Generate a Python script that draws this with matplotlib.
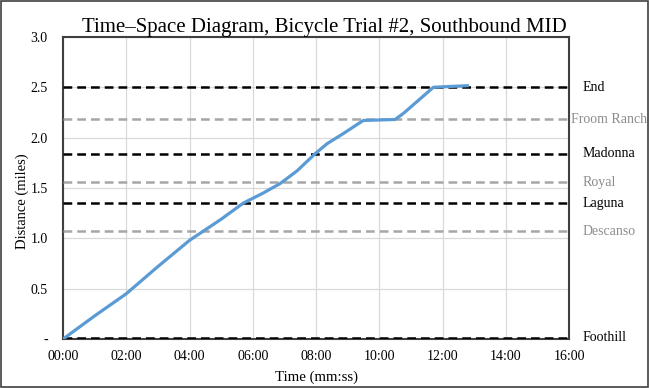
import matplotlib.pyplot as plt
from matplotlib.patches import Rectangle
from matplotlib.ticker import FuncFormatter

plt.rcParams['font.family'] = ['Liberation Serif', 'DejaVu Serif']

# trip trace: time in minutes, distance in miles
time_min = [0.0, 1.0, 2.0, 3.0, 4.0, 5.0, 5.7, 6.33, 6.87, 7.4, 7.97,
            8.35, 8.86, 9.49, 10.5, 10.76, 11.71, 12.78]
dist_mi = [0.0, 0.23, 0.45, 0.72, 0.98, 1.19, 1.35, 1.45, 1.545, 1.67, 1.84,
           1.94, 2.04, 2.17, 2.18, 2.24, 2.50, 2.515]

# intersections along the corridor
stops = ['End', 'Froom Ranch', 'Madonna', 'Royal', 'Laguna', 'Descanso', 'Foothill']
stop_dist = [2.50, 2.18, 1.84, 1.555, 1.35, 1.07, 0.015]
major = [True, False, True, False, True, False, True]

fig = plt.figure(figsize=(6.49, 3.88), dpi=100)
ax = fig.add_axes([0.097, 0.126, 0.780, 0.779])

fig.patches.append(Rectangle((0.002, 0.003), 0.996, 0.994, transform=fig.transFigure,
                             fill=False, edgecolor='#404040', linewidth=1.2))

for name, d, big in zip(stops, stop_dist, major):
    col = 'black' if big else '#a6a6a6'
    ax.axhline(d, color=col, linestyle=(0, (3.5, 2)), linewidth=1.8, zorder=3)
    xt = 16.06 if name == 'Froom Ranch' else 16.41
    ax.text(xt, d, name, color='black' if big else '#8c8c8c', fontsize=10,
            va='center', ha='left', clip_on=False)

ax.plot(time_min, dist_mi, color='#5b9bd5', linewidth=2.3, zorder=4)

ax.set_xlim(0, 16)
ax.set_ylim(0, 3.0)
ax.set_xticks(range(0, 17, 2))
ax.set_yticks([0, 0.5, 1.0, 1.5, 2.0, 2.5, 3.0])
ax.xaxis.set_major_formatter(FuncFormatter(lambda v, p: '%02d:00' % int(v)))
ax.yaxis.set_major_formatter(FuncFormatter(lambda v, p: '-' if v == 0 else '%.1f' % v))
ax.tick_params(length=0, labelsize=10)
ax.tick_params(axis='x', pad=8)
ax.tick_params(axis='y', pad=11)
ax.grid(True, color='#d9d9d9', linewidth=0.9, zorder=0)
ax.set_axisbelow(True)
for s in ax.spines.values():
    s.set_color('#404040')
    s.set_linewidth(1.5)

fig.text(0.5, 0.9175, 'Time\u2013Space Diagram, Bicycle Trial #2, Southbound MID',
         fontsize=15, ha='center', va='baseline')
ax.set_xlabel('Time (mm:ss)', fontsize=10.7)
ax.xaxis.set_label_coords(0.5, -0.103)
ax.set_ylabel('Distance (miles)', fontsize=10.5)
ax.yaxis.set_label_coords(-0.068, 0.457)

fig.savefig('out.png', dpi=100)
